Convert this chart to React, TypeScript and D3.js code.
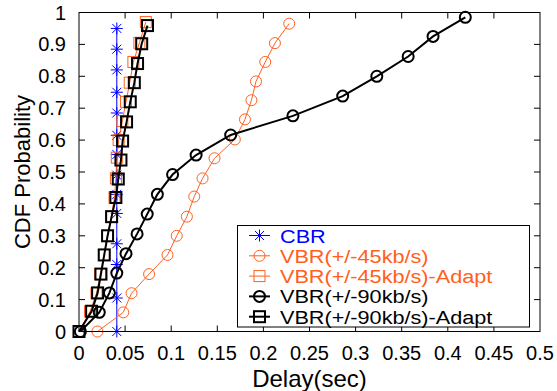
import { useRef, useEffect } from "react";
import * as d3 from "d3";

// CBR: constant delay, vertical line of stars
const cbrX = [0.041, 0.041, 0.041, 0.041, 0.041, 0.041, 0.041, 0.041, 0.041, 0.041, 0.041, 0.041, 0.041, 0.041];
const cbrY = [0, 0.105, 0.21, 0.275, 0.37, 0.43, 0.49, 0.555, 0.615, 0.685, 0.75, 0.82, 0.885, 0.95];

const vbr45X = [0.02, 0.048, 0.057, 0.076, 0.096, 0.106, 0.117, 0.125, 0.134, 0.147, 0.169, 0.18, 0.187, 0.192, 0.202, 0.2125, 0.228];
const vbr45Y = [0, 0.06, 0.12, 0.18, 0.24, 0.3, 0.36, 0.423, 0.48, 0.543, 0.602, 0.665, 0.725, 0.784, 0.845, 0.904, 0.965];

const vbr45AdX = [0, 0.012, 0.019, 0.023, 0.027, 0.031, 0.035, 0.0385, 0.04, 0.041, 0.043, 0.047, 0.051, 0.055, 0.059, 0.0655, 0.0725];
const vbr45AdY = [0, 0.063, 0.12, 0.18, 0.24, 0.3, 0.36, 0.42, 0.48, 0.545, 0.6, 0.66, 0.72, 0.78, 0.845, 0.905, 0.97];

const vbr90X = [0.0015, 0.022, 0.033, 0.041, 0.051, 0.063, 0.074, 0.085, 0.1015, 0.127, 0.1645, 0.232, 0.286, 0.323, 0.357, 0.384, 0.419];
const vbr90Y = [0, 0.06, 0.121, 0.183, 0.244, 0.306, 0.368, 0.43, 0.492, 0.553, 0.616, 0.676, 0.738, 0.8, 0.862, 0.925, 0.985];

const vbr90AdX = [0, 0.0137, 0.0202, 0.0238, 0.0274, 0.031, 0.0354, 0.04, 0.0426, 0.0455, 0.0473, 0.0516, 0.0556, 0.06, 0.0635, 0.068, 0.0743];
const vbr90AdY = [0, 0.0635, 0.121, 0.18, 0.24, 0.3, 0.36, 0.42, 0.478, 0.5375, 0.597, 0.657, 0.72, 0.78, 0.84, 0.902, 0.959];

const xTicks = [0, 0.05, 0.1, 0.15, 0.2, 0.25, 0.3, 0.35, 0.4, 0.45, 0.5];
const yTicks = [0, 0.1, 0.2, 0.3, 0.4, 0.5, 0.6, 0.7, 0.8, 0.9, 1];

const ORANGE = "#ff6020";
const FONT = "'Liberation Sans', Arial, Helvetica, sans-serif";

const seriesList = [
  { name: "CBR", xs: cbrX, ys: cbrY, color: "#0000ff", marker: "star", width: 1 },
  { name: "VBR(+/-45kb/s)", xs: vbr45X, ys: vbr45Y, color: ORANGE, marker: "circle", width: 1 },
  { name: "VBR(+/-45kb/s)-Adapt", xs: vbr45AdX, ys: vbr45AdY, color: ORANGE, marker: "square", width: 1 },
  { name: "VBR(+/-90kb/s)", xs: vbr90X, ys: vbr90Y, color: "#000000", marker: "circle", width: 2 },
  { name: "VBR(+/-90kb/s)-Adapt", xs: vbr90AdX, ys: vbr90AdY, color: "#000000", marker: "square", width: 2 },
];

function drawMarker(g, kind, x, y, color, w) {
  if (kind === "circle") {
    g.append("circle").attr("cx", x).attr("cy", y).attr("r", 5.5)
      .attr("fill", "none").attr("stroke", color).attr("stroke-width", w);
  } else if (kind === "square") {
    g.append("rect").attr("x", x - 5.5).attr("y", y - 5.5).attr("width", 11).attr("height", 11)
      .attr("fill", "none").attr("stroke", color).attr("stroke-width", w);
  } else {
    const s = 6;
    const d = `M${x - s},${y}L${x + s},${y}M${x},${y - s}L${x},${y + s}` +
      `M${x - s * 0.75},${y - s * 0.75}L${x + s * 0.75},${y + s * 0.75}` +
      `M${x - s * 0.75},${y + s * 0.75}L${x + s * 0.75},${y - s * 0.75}`;
    g.append("path").attr("d", d).attr("stroke", color).attr("stroke-width", w).attr("fill", "none");
  }
}

export default function App() {
  const svgRef = useRef(null);

  useEffect(() => {
    const width = 557;
    const height = 391;
    const margin = { top: 12.5, right: 17, bottom: 59.5, left: 79 };

    const svg = d3.select(svgRef.current);
    svg.selectAll("*").remove();

    const x = d3.scaleLinear().domain([0, 0.5]).range([margin.left, width - margin.right]);
    const y = d3.scaleLinear().domain([0, 1]).range([height - margin.bottom, margin.top]);

    const x0 = x(0), x1 = x(0.5), y0 = y(0), y1 = y(1);
    const tick = 6;

    // ticks on all four sides (inward)
    const axes = svg.append("g").attr("stroke", "#000").attr("stroke-width", 1);
    xTicks.forEach((t) => {
      if (t === 0 || t === 0.5) return;
      axes.append("line").attr("x1", x(t)).attr("x2", x(t)).attr("y1", y0).attr("y2", y0 - tick);
      axes.append("line").attr("x1", x(t)).attr("x2", x(t)).attr("y1", y1).attr("y2", y1 + tick);
    });
    yTicks.forEach((t) => {
      if (t === 0 || t === 1) return;
      axes.append("line").attr("x1", x0).attr("x2", x0 + tick).attr("y1", y(t)).attr("y2", y(t));
      axes.append("line").attr("x1", x1).attr("x2", x1 - tick).attr("y1", y(t)).attr("y2", y(t));
    });

    // tick labels
    xTicks.forEach((t) => {
      svg.append("text").attr("x", x(t)).attr("y", y0 + 28)
        .attr("text-anchor", "middle").style("font-family", FONT).style("font-size", "20px")
        .text(String(t));
    });
    yTicks.forEach((t) => {
      svg.append("text").attr("x", x0 - 13).attr("y", y(t) + 7)
        .attr("text-anchor", "end").style("font-family", FONT).style("font-size", "20px")
        .text(String(t));
    });

    svg.append("text").attr("x", (x0 + x1) / 2).attr("y", 387)
      .attr("text-anchor", "middle").style("font-family", FONT).style("font-size", "24px")
      .text("Delay(sec)");
    svg.append("text").attr("transform", `translate(30,${(y0 + y1) / 2}) rotate(-90)`)
      .attr("text-anchor", "middle").style("font-family", FONT).style("font-size", "22px")
      .text("CDF Probability");

    // series
    const line = d3.line().x((d) => x(d[0])).y((d) => y(d[1]));
    const plot = svg.append("g");
    seriesList.forEach((s) => {
      const pts = s.xs.map((v, i) => [v, s.ys[i]]);
      plot.append("path").attr("d", line(pts)).attr("fill", "none")
        .attr("stroke", s.color).attr("stroke-width", s.width);
      pts.forEach((p) => drawMarker(plot, s.marker, x(p[0]), y(p[1]), s.color, s.width));
    });

    // legend
    const lg = svg.append("g");
    lg.append("rect").attr("x", 237.5).attr("y", 225.5).attr("width", 292).attr("height", 101.5)
      .attr("fill", "#fff").attr("stroke", "#000").attr("stroke-width", 1);
    seriesList.forEach((s, i) => {
      const cy = 235.5 + i * 20.3;
      lg.append("line").attr("x1", 249).attr("x2", 270).attr("y1", cy).attr("y2", cy)
        .attr("stroke", s.color).attr("stroke-width", s.width);
      drawMarker(lg, s.marker, 259.5, cy, s.color, s.width);
      lg.append("text").attr("transform", `translate(280,${cy + 7}) scale(1.14,1)`)
        .attr("fill", s.color)
        .style("font-family", FONT).style("font-size", "19px").text(s.name);
    });

    // frame
    svg.append("rect").attr("x", x0).attr("y", y1).attr("width", x1 - x0).attr("height", y0 - y1)
      .attr("fill", "none").attr("stroke", "#000").attr("stroke-width", 1);
  }, []);

  return (
    <svg
      ref={svgRef}
      width={557}
      height={391}
      style={{ position: "absolute", left: 0, top: 0, background: "#fff" }}
    />
  );
}
